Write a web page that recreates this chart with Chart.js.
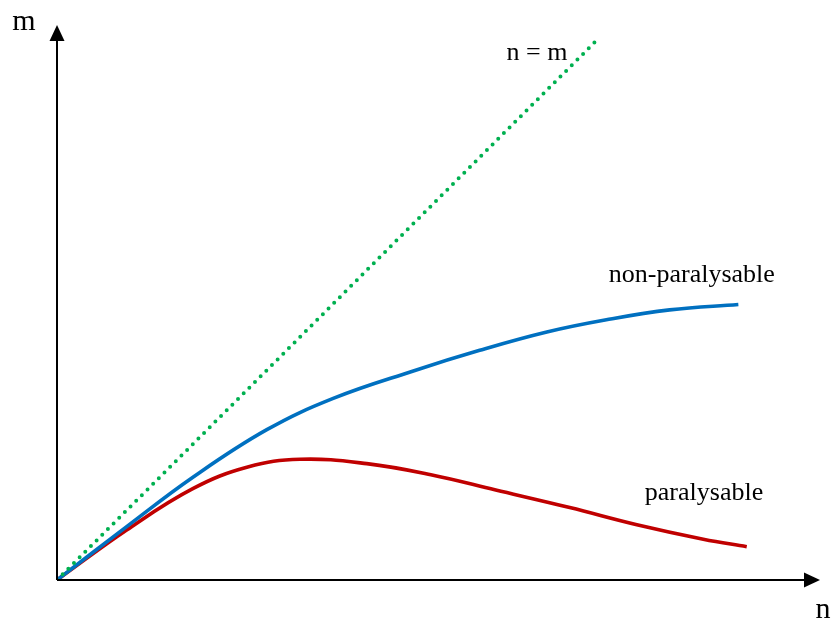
<!DOCTYPE html>
<html>
<head>
<meta charset="utf-8">
<title>Dead-time models: measured vs. true rate</title>
<script src="https://cdn.jsdelivr.net/npm/chart.js@4.4.1/dist/chart.umd.min.js"></script>
<style>
  html, body { margin: 0; padding: 0; background: #ffffff; }
  #wrap { width: 832px; height: 622px; }
</style>
</head>
<body>
<div id="wrap"><canvas id="c" width="832" height="622"></canvas></div>
<script>
// True rate n (x) and measured rate m (y), same units on both axes.
const idealN = [0, 70.9];
const idealM = [0, 70.9];

const nonParN = [0, 9.13, 17.86, 27.5, 36.2, 46.7, 55.4, 64.2, 72.0, 80.3, 89.3];
const nonParM = [0, 6.99, 13.5, 19.7, 23.8, 27.4, 30.1, 32.5, 34.1, 35.4, 36.1];

const parN = [0, 9.13, 17.86, 25.0, 31.85, 40.6, 49.0, 57.5, 67.2, 76.0, 84.7, 90.4];
const parM = [0, 6.55, 12.0, 14.8, 15.82, 15.25, 13.8, 11.8, 9.5, 7.25, 5.35, 4.36];

const curveLabels = [
  { text: 'n = m', n: 62.9, m: 68.2 },
  { text: 'non-paralysable', n: 83.2, m: 39.1 },
  { text: 'paralysable', n: 84.8, m: 10.5 }
];
const axisNames = { x: 'n', y: 'm' };

const toPoints = (xs, ys) => xs.map((x, i) => ({ x: x, y: ys[i] }));

const SERIF = '"Liberation Serif", "Times New Roman", "DejaVu Serif", serif';

// Axis lines with arrowheads, plus the axis names and curve captions.
const axesAndText = {
  id: 'axesAndText',
  afterDatasetsDraw(chart) {
    const ctx = chart.ctx;
    const xs = chart.scales.x, ys = chart.scales.y;
    const ox = xs.getPixelForValue(0), oy = ys.getPixelForValue(0);
    const right = chart.chartArea.right, top = chart.chartArea.top;
    ctx.save();
    ctx.strokeStyle = '#000';
    ctx.fillStyle = '#000';
    ctx.lineWidth = 2;
    ctx.beginPath();
    ctx.moveTo(ox, oy); ctx.lineTo(right - 14, oy);
    ctx.moveTo(ox, oy); ctx.lineTo(ox, top + 14);
    ctx.stroke();
    // x arrowhead
    ctx.beginPath();
    ctx.moveTo(right, oy);
    ctx.lineTo(right - 16, oy - 7.5);
    ctx.lineTo(right - 16, oy + 7.5);
    ctx.closePath(); ctx.fill();
    // y arrowhead
    ctx.beginPath();
    ctx.moveTo(ox, top);
    ctx.lineTo(ox - 7.5, top + 16);
    ctx.lineTo(ox + 7.5, top + 16);
    ctx.closePath(); ctx.fill();

    ctx.textAlign = 'center';
    ctx.textBaseline = 'alphabetic';
    ctx.font = '30px ' + SERIF;
    ctx.fillText(axisNames.y, ox - 33, top + 5);
    ctx.fillText(axisNames.x, right + 3, oy + 38);
    ctx.font = '26px ' + SERIF;
    curveLabels.forEach(l => {
      ctx.fillText(l.text, xs.getPixelForValue(l.n), ys.getPixelForValue(l.m));
    });
    ctx.restore();
  }
};

new Chart(document.getElementById('c'), {
  type: 'scatter',
  data: {
    datasets: [
      {
        label: 'n = m',
        data: toPoints(idealN, idealM),
        showLine: true,
        borderColor: '#00B050',
        borderWidth: 4,
        borderDash: [0, 8],
        borderCapStyle: 'round',
        pointRadius: 0,
        fill: false
      },
      {
        label: 'non-paralysable',
        data: toPoints(nonParN, nonParM),
        showLine: true,
        borderColor: '#0070C0',
        borderWidth: 3.6,
        pointRadius: 0,
        tension: 0.4,
        fill: false
      },
      {
        label: 'paralysable',
        data: toPoints(parN, parM),
        showLine: true,
        borderColor: '#C00000',
        borderWidth: 3.6,
        pointRadius: 0,
        tension: 0.4,
        fill: false
      }
    ]
  },
  options: {
    responsive: false,
    animation: false,
    devicePixelRatio: 1,
    layout: { padding: { left: 57, right: 12, top: 25, bottom: 42 } },
    plugins: { legend: { display: false }, tooltip: { enabled: false } },
    scales: {
      x: { type: 'linear', min: 0, max: 100, display: false },
      y: { type: 'linear', min: 0, max: 72.74, display: false }
    }
  },
  plugins: [axesAndText]
});
</script>
</body>
</html>
